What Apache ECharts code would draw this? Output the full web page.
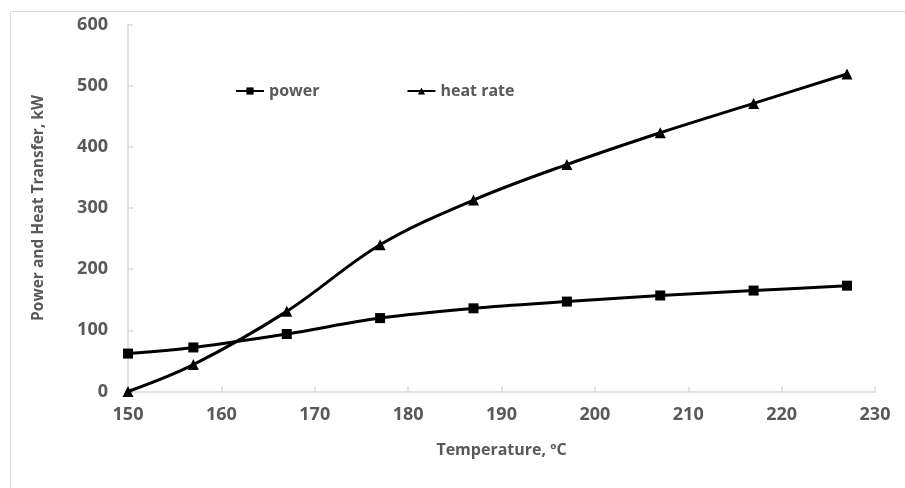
<!DOCTYPE html>
<html>
<head>
<meta charset="utf-8">
<script src="https://cdn.jsdelivr.net/npm/echarts@6/dist/echarts.min.js"></script>
<style>
  html, body { margin: 0; padding: 0; background: #fff; }
  #chart { width: 905px; height: 488px; }
</style>
</head>
<body>
<div id="chart"></div>
<script>
// Temperature (°C) at which each case was evaluated
const temperature = [150, 157, 167, 177, 187, 197, 207, 217, 227];
// Net power output, kW
const power = [62, 72, 94, 120, 136, 147, 157, 165, 173];
// Heat transfer rate, kW
const heatRate = [0, 44, 131, 240, 313, 371, 423, 471, 519];

const textColor = '#595959';
const axisColor = '#d9d9d9';
const font = '"Open Sans", "Liberation Sans", sans-serif';

const pairs = (xs, ys) => xs.map((x, i) => [x, ys[i]]);

const chart = echarts.init(document.getElementById('chart'), null, { renderer: 'canvas' });

chart.setOption({
  backgroundColor: '#ffffff',
  animation: false,
  graphic: [{
    type: 'rect',
    shape: { x: 10.5, y: 11.5, width: 1000, height: 1000 },
    style: { fill: 'none', stroke: axisColor, lineWidth: 1 },
    silent: true
  }],
  grid: { left: 128, right: 30, top: 24.5, bottom: 96.5, containLabel: false },
  legend: {
    left: 235,
    top: 83,
    padding: 0,
    itemWidth: 28,
    itemHeight: 9,
    itemGap: 87,
    textStyle: { color: textColor, fontFamily: font, fontWeight: 'bold', fontSize: 16 },
    data: ['power', 'heat rate']
  },
  xAxis: {
    type: 'value',
    min: 150,
    max: 230,
    interval: 10,
    name: 'Temperature, ºC',
    nameLocation: 'middle',
    nameGap: 51,
    nameTextStyle: { color: textColor, fontFamily: font, fontWeight: 'bold', fontSize: 16 },
    axisLine: { lineStyle: { color: axisColor, width: 1.5 } },
    axisTick: { inside: true, length: 5, lineStyle: { color: axisColor, width: 1.5 } },
    axisLabel: { color: textColor, fontFamily: font, fontWeight: 'bold', fontSize: 18, margin: 14 },
    splitLine: { show: false }
  },
  yAxis: {
    type: 'value',
    min: 0,
    max: 600,
    interval: 100,
    name: 'Power and Heat Transfer, kW',
    nameLocation: 'middle',
    nameGap: 81,
    nameTextStyle: { color: textColor, fontFamily: font, fontWeight: 'bold', fontSize: 15.5 },
    axisLine: { show: true, lineStyle: { color: axisColor, width: 1.5 } },
    axisTick: { show: true, inside: true, length: 5, lineStyle: { color: axisColor, width: 1.5 } },
    axisLabel: { color: textColor, fontFamily: font, fontWeight: 'bold', fontSize: 18, margin: 20 },
    splitLine: { show: false }
  },
  series: [
    {
      name: 'power',
      type: 'line',
      data: pairs(temperature, power),
      smooth: 0.35,
      symbol: 'rect',
      symbolSize: 10,
      lineStyle: { color: '#000', width: 3 },
      itemStyle: { color: '#000', borderWidth: 0 }
    },
    {
      name: 'heat rate',
      type: 'line',
      data: pairs(temperature, heatRate),
      smooth: 0.35,
      symbol: 'triangle',
      symbolSize: 11,
      lineStyle: { color: '#000', width: 3 },
      itemStyle: { color: '#000', borderWidth: 0 }
    }
  ]
});
</script>
</body>
</html>
